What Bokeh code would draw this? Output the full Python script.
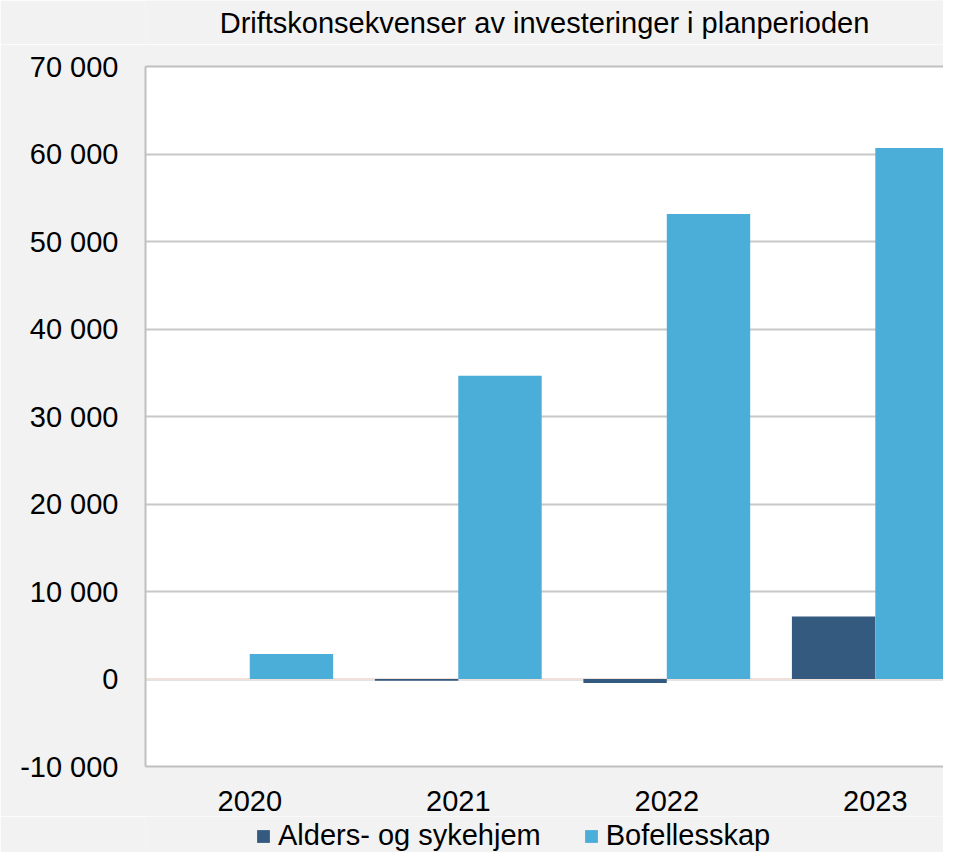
from bokeh.plotting import figure
from bokeh.models import (Range1d, FixedTicker, Legend, LegendItem, Span, ColumnDataSource,
                          LinearAxis, Label)
from bokeh.layouts import column
from bokeh.embed import file_html
from bokeh.resources import INLINE

years = ["2020", "2021", "2022", "2023"]
alders = [0, -200, -450, 7150]
bofellesskap = [2850, 34650, 53150, 60700]
series_names = ["Alders- og sykehjem", "Bofellesskap"]
y_ticks = [-10000, 0, 10000, 20000, 30000, 40000, 50000, 60000, 70000]
y_tick_labels = ["-10 000", "0", "10 000", "20 000", "30 000", "40 000", "50 000", "60 000", "70 000"]
title_text = "Driftskonsekvenser av investeringer i planperioden"

DARK = "#345a80"
LIGHT = "#4aaed8"
BG = "#f2f2f2"
BORDER = "#bfbfbf"
FONT = "Liberation Sans"
FS = "29px"

centers = [i + 0.5 for i in range(len(years))]
src = ColumnDataSource(dict(
    x_dark=[c - 0.2 for c in centers],
    x_light=[c + 0.2 for c in centers],
    alders=alders,
    bof=bofellesskap,
))


def strip(height):
    f = figure(width=943, height=height, output_backend="svg", toolbar_location=None,
               x_range=Range1d(0, 1), y_range=Range1d(0, 1), min_border=0)
    f.axis.visible = False
    f.grid.grid_line_color = None
    f.outline_line_color = None
    f.background_fill_color = BG
    f.border_fill_color = BG
    return f


# title strip (its frame is aligned with the chart's frame by the column)
tf = strip(44)
tf.add_layout(Label(x=0.5, y=0.5, text=title_text, text_align="center", text_baseline="middle",
                    text_font=FONT, text_font_size=FS, text_color="black"))

p = figure(width=943, height=772, output_backend="svg", toolbar_location=None,
           x_range=Range1d(0, 3.827), y_range=Range1d(-10000, 70000))
p.min_border_left = 145
p.min_border_right = 0
p.min_border_top = 22
p.min_border_bottom = 50
p.background_fill_color = "white"
p.border_fill_color = BG
p.outline_line_color = None

r1 = p.vbar(x="x_dark", top="alders", bottom=0, width=0.4, source=src,
            fill_color=DARK, line_color=None)
r2 = p.vbar(x="x_light", top="bof", bottom=0, width=0.4, source=src,
            fill_color=LIGHT, line_color=None)

zero = Span(location=0, dimension="width", line_color="#f0e2da", line_width=2, level="underlay")
p.add_layout(zero)

p.yaxis.ticker = FixedTicker(ticks=y_ticks)
p.yaxis.major_label_overrides = {t: l for t, l in zip(y_ticks, y_tick_labels)}
p.yaxis.major_label_text_font = FONT
p.yaxis.major_label_text_font_size = FS
p.yaxis.major_label_text_color = "black"
p.yaxis.major_tick_line_color = None
p.yaxis.minor_tick_line_color = None
p.yaxis.axis_line_color = BORDER
p.yaxis.axis_line_width = 2
p.yaxis.major_label_standoff = 21

p.xaxis.ticker = FixedTicker(ticks=centers)
p.xaxis.major_label_overrides = {c: y for c, y in zip(centers, years)}
p.xaxis.major_label_text_font = FONT
p.xaxis.major_label_text_font_size = FS
p.xaxis.major_label_text_color = "black"
p.xaxis.major_tick_line_color = None
p.xaxis.minor_tick_line_color = None
p.xaxis.axis_line_color = BORDER
p.xaxis.axis_line_width = 2
p.xaxis.major_label_standoff = 18

top_axis = LinearAxis(ticker=FixedTicker(ticks=[]), axis_line_color=BORDER, axis_line_width=2,
                      major_tick_line_color=None, minor_tick_line_color=None,
                      major_label_text_font_size="0px")
p.add_layout(top_axis, "above")

p.xgrid.grid_line_color = None
p.ygrid.grid_line_color = "#c8c8c8"
p.ygrid.grid_line_width = 2

# legend strip below the chart; its bars lie far outside its visible range
lf = strip(36)
lf.y_range = Range1d(1_000_000, 1_000_001)
l1 = lf.vbar(x="x_dark", top="alders", bottom=0, width=0.4, source=src,
             fill_color=DARK, line_color=None)
l2 = lf.vbar(x="x_light", top="bof", bottom=0, width=0.4, source=src,
             fill_color=LIGHT, line_color=None)

legend = Legend(items=[LegendItem(label=series_names[0], renderers=[l1]),
                       LegendItem(label=series_names[1], renderers=[l2])],
                orientation="horizontal", location=(110, 0))
legend.glyph_width = 16
legend.glyph_height = 16
legend.label_standoff = 7
legend.spacing = 42
legend.padding = 0
legend.margin = 0
legend.border_line_color = None
legend.background_fill_alpha = 0
legend.label_text_font = FONT
legend.label_text_font_size = FS
legend.label_text_color = "black"
legend.label_height = 20
lf.add_layout(legend, "center")

layout = column(tf, p, lf, spacing=0)
open("out.html", "w").write(file_html(layout, INLINE))
